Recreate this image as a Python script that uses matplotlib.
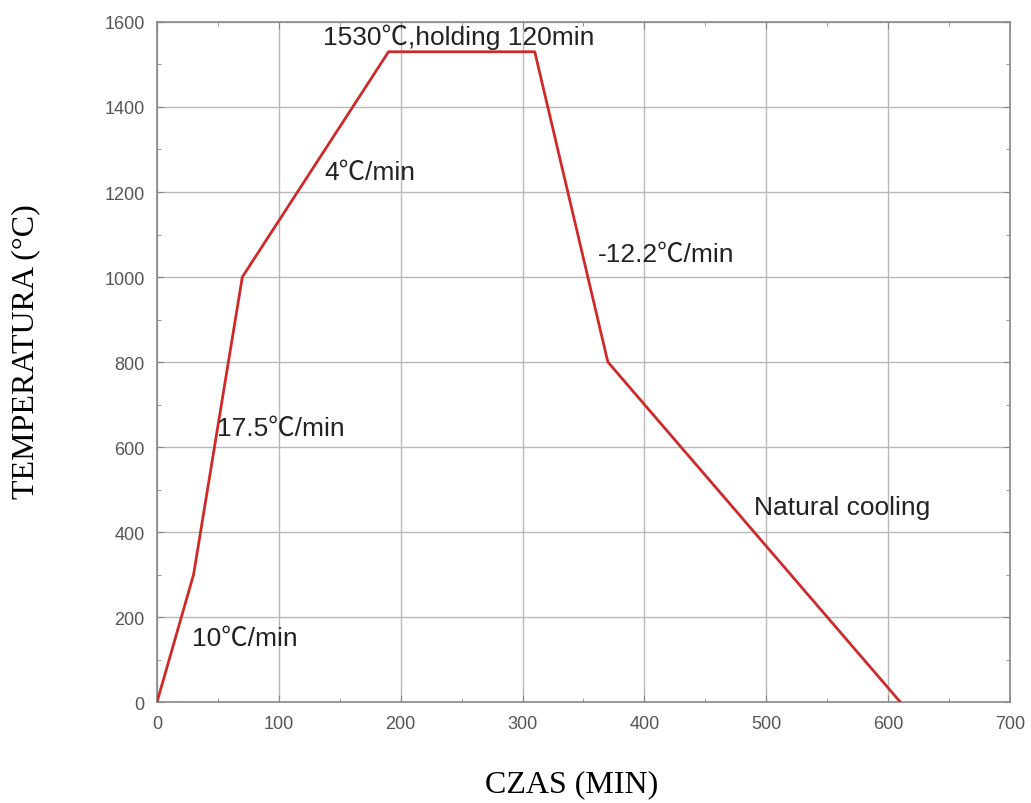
import matplotlib
matplotlib.use("Agg")
import matplotlib.pyplot as plt
from matplotlib.ticker import MultipleLocator

time_min = [0, 30, 70, 190, 310, 370, 610]
temperature = [0, 300, 1000, 1530, 1530, 800, 0]

labels = ["1530℃,holding 120min", "4℃/min", "-12.2℃/min", "17.5℃/min",
          "Natural cooling", "10℃/min"]
label_x = [136, 137, 362, 49, 490, 28.5]
label_y = [1548, 1231, 1038, 628, 442, 134]

fam = ["Liberation Sans", "Noto Sans CJK SC", "DejaVu Sans"]

fig = plt.figure(figsize=(10.31, 8.04), dpi=100)
ax = fig.add_axes([0.1523, 0.1256, 0.8273, 0.8458])

ax.plot(time_min, temperature, color="#cf2a2a", lw=2.0, zorder=3)

ax.set_xlim(0, 700)
ax.set_ylim(0, 1600)
ax.xaxis.set_major_locator(MultipleLocator(100))
ax.xaxis.set_minor_locator(MultipleLocator(50))
ax.yaxis.set_major_locator(MultipleLocator(200))
ax.yaxis.set_minor_locator(MultipleLocator(100))
ax.grid(True, which="major", color="#b8b8b8", lw=1.0)
ax.tick_params(which="both", direction="in", color="#888888", top=True, right=True)
ax.tick_params(which="major", length=5, labelsize=13, labelcolor="#555555", pad=9)
ax.tick_params(which="minor", length=3)
for lab in ax.get_xticklabels() + ax.get_yticklabels():
    lab.set_family(fam)
for s in ax.spines.values():
    s.set_color("#888888")
    s.set_linewidth(1.2)

for t, x, y in zip(labels, label_x, label_y):
    ax.text(x, y, t, fontsize=19, color="#222222", family=fam,
            va="baseline", ha="left", zorder=4)

fig.text(572 / 1031, 12 / 804, "CZAS (MIN)", family=["Liberation Serif"],
         fontsize=23, ha="center", va="baseline")
fig.text(26 / 1031, 1 - 352 / 804, "TEMPERATURA (°C)", family=["Liberation Serif"],
         fontsize=23, ha="center", va="center", rotation=90)

fig.savefig("out.png", dpi=100)
